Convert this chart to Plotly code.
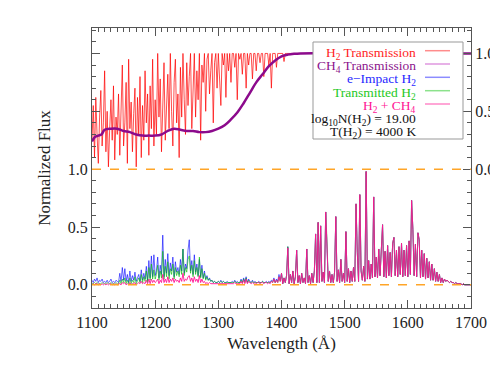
import plotly.graph_objects as go

# ---------------- data ----------------
WL_START = 1100   # Angstrom, first sample of the spectra
WL_STEP = 2       # Angstrom, sampling of the spectra

# electron-impact H2 emission (normalized flux), 1100-1700 A
e_impact = [
    0.04, 0.02, 0.05, 0.03, 0.06, 0.02, 0.04, 0.03, 0.05, 0.02,
    0.03, 0.02, 0.04, 0.02, 0.03, 0.05, 0.02, 0.03, 0.02, 0.04,
    0.03, 0.02, 0.10, 0.03, 0.15, 0.04, 0.14, 0.03, 0.09, 0.02,
    0.12, 0.03, 0.08, 0.04, 0.11, 0.03, 0.06, 0.09, 0.03, 0.13,
    0.04, 0.10, 0.05, 0.16, 0.04, 0.21, 0.06, 0.25, 0.07, 0.26,
    0.08, 0.12, 0.24, 0.06, 0.17, 0.09, 0.43, 0.07, 0.22, 0.10,
    0.27, 0.08, 0.19, 0.12, 0.24, 0.07, 0.20, 0.11, 0.15, 0.09,
    0.22, 0.12, 0.31, 0.10, 0.18, 0.14, 0.30, 0.39, 0.12, 0.21,
    0.09, 0.26, 0.11, 0.18, 0.08, 0.22, 0.07, 0.17, 0.06, 0.12,
    0.05, 0.08, 0.04, 0.06, 0.03, 0.04, 0.02, 0.03, 0.02, 0.02,
    0.03, 0.02, 0.04, 0.02, 0.03, 0.02, 0.02, 0.03, 0.02, 0.02,
    0.02, 0.03, 0.02, 0.04, 0.02, 0.03, 0.02, 0.02, 0.05, 0.02,
    0.06, 0.03, 0.07, 0.02, 0.05, 0.03, 0.02, 0.04, 0.02, 0.03,
    0.02, 0.02, 0.03, 0.02, 0.02, 0.03, 0.02, 0.02, 0.03, 0.02,
    0.03, 0.02, 0.04, 0.03, 0.06, 0.02, 0.05, 0.03, 0.09, 0.04,
    0.10, 0.01, 0.06, 0.02, 0.08, 0.33, 0.01, 0.09, 0.02, 0.12,
    0.01, 0.07, 0.30, 0.02, 0.08, 0.01, 0.10, 0.02, 0.06, 0.01,
    0.31, 0.02, 0.08, 0.01, 0.10, 0.02, 0.12, 0.44, 0.02, 0.54,
    0.02, 0.51, 0.03, 0.11, 0.02, 0.63, 0.39, 0.03, 0.12, 0.02,
    0.09, 0.02, 0.11, 0.59, 0.03, 0.13, 0.02, 0.22, 0.03, 0.10,
    0.02, 0.46, 0.03, 0.14, 0.02, 0.12, 0.03, 0.15, 0.03, 0.70,
    0.28, 0.03, 0.78, 0.12, 0.04, 0.16, 0.03, 0.98, 0.05, 0.21,
    0.05, 0.18, 0.06, 0.76, 0.07, 0.24, 0.06, 0.31, 0.08, 0.27,
    0.52, 0.07, 0.29, 0.06, 0.34, 0.08, 0.28, 0.07, 0.36, 0.41,
    0.08, 0.30, 0.07, 0.33, 0.09, 0.36, 0.07, 0.30, 0.08, 0.34,
    0.07, 0.38, 0.09, 0.73, 0.48, 0.08, 0.35, 0.07, 0.45, 0.39,
    0.06, 0.30, 0.07, 0.27, 0.05, 0.23, 0.06, 0.20, 0.04, 0.18,
    0.04, 0.14, 0.03, 0.11, 0.03, 0.09, 0.02, 0.06, 0.02, 0.05,
    0.03, 0.04, 0.03, 0.02, 0.03, 0.02, 0.02, 0.01, 0.02, 0.01,
    0.01, 0.01, 0.01, 0.00, 0.01, 0.00, 0.00, 0.00, 0.00, 0.00,
    0.00,
]

# H2 emission after H2 absorption, 1100-1428 A (identical to e_impact beyond)
transmitted_h2_short = [
    0.01, 0.01, 0.02, 0.01, 0.02, 0.01, 0.01, 0.01, 0.02, 0.01,
    0.01, 0.01, 0.02, 0.01, 0.01, 0.02, 0.01, 0.01, 0.01, 0.02,
    0.01, 0.01, 0.04, 0.01, 0.05, 0.02, 0.06, 0.01, 0.04, 0.01,
    0.06, 0.01, 0.04, 0.02, 0.07, 0.01, 0.04, 0.06, 0.02, 0.09,
    0.02, 0.07, 0.03, 0.12, 0.02, 0.15, 0.04, 0.18, 0.05, 0.13,
    0.05, 0.09, 0.17, 0.04, 0.12, 0.06, 0.29, 0.05, 0.16, 0.07,
    0.20, 0.05, 0.14, 0.09, 0.18, 0.05, 0.15, 0.08, 0.12, 0.07,
    0.17, 0.09, 0.31, 0.08, 0.15, 0.11, 0.22, 0.25, 0.10, 0.17,
    0.07, 0.21, 0.09, 0.15, 0.07, 0.24, 0.06, 0.14, 0.05, 0.10,
    0.04, 0.07, 0.04, 0.05, 0.03, 0.04, 0.02, 0.03, 0.02, 0.02,
    0.03, 0.02, 0.03, 0.02, 0.03, 0.02, 0.02, 0.02, 0.02, 0.02,
    0.02, 0.02, 0.02, 0.03, 0.02, 0.02, 0.02, 0.02, 0.04, 0.02,
    0.05, 0.02, 0.06, 0.02, 0.04, 0.02, 0.02, 0.03, 0.02, 0.02,
    0.02, 0.02, 0.02, 0.02, 0.02, 0.03, 0.02, 0.02, 0.02, 0.02,
    0.02, 0.02, 0.03, 0.02, 0.05, 0.02, 0.04, 0.02, 0.07, 0.03,
    0.10, 0.01, 0.06, 0.02, 0.08, 0.33, 0.01, 0.09, 0.02, 0.12,
    0.01, 0.07, 0.30, 0.02, 0.08,
]

# H2 emission after H2 + CH4 absorption, 1100-1428 A (identical to e_impact beyond)
h2_ch4_short = [
    0.00, 0.01, 0.00, 0.01, 0.01, 0.00, 0.01, 0.00, 0.01, 0.00,
    0.01, 0.00, 0.01, 0.00, 0.01, 0.01, 0.00, 0.01, 0.00, 0.01,
    0.00, 0.01, 0.01, 0.00, 0.02, 0.01, 0.02, 0.00, 0.01, 0.00,
    0.02, 0.00, 0.01, 0.01, 0.02, 0.00, 0.01, 0.02, 0.01, 0.03,
    0.01, 0.02, 0.01, 0.04, 0.01, 0.05, 0.01, 0.05, 0.02, 0.04,
    0.02, 0.03, 0.05, 0.01, 0.04, 0.02, 0.09, 0.02, 0.05, 0.02,
    0.07, 0.02, 0.05, 0.03, 0.06, 0.02, 0.05, 0.03, 0.04, 0.02,
    0.06, 0.03, 0.10, 0.03, 0.05, 0.04, 0.07, 0.08, 0.03, 0.06,
    0.02, 0.07, 0.03, 0.05, 0.02, 0.08, 0.02, 0.05, 0.02, 0.03,
    0.01, 0.02, 0.01, 0.02, 0.01, 0.01, 0.01, 0.01, 0.01, 0.01,
    0.01, 0.01, 0.01, 0.01, 0.01, 0.01, 0.01, 0.01, 0.01, 0.01,
    0.01, 0.01, 0.01, 0.02, 0.01, 0.01, 0.01, 0.01, 0.03, 0.01,
    0.04, 0.01, 0.05, 0.01, 0.03, 0.02, 0.01, 0.02, 0.01, 0.02,
    0.01, 0.02, 0.02, 0.01, 0.02, 0.02, 0.01, 0.02, 0.02, 0.01,
    0.02, 0.01, 0.03, 0.02, 0.05, 0.02, 0.04, 0.02, 0.07, 0.03,
    0.10, 0.01, 0.06, 0.02, 0.08, 0.32, 0.01, 0.09, 0.02, 0.12,
    0.01, 0.07, 0.30, 0.02, 0.08,
]

# H2 transmission, 1100-1428 A, then flat at 1.0 up to 1700 A
h2_trans = [
    0.25, 0.55, 0.10, 0.62, 0.30, 0.05, 0.45, 0.68, 0.20, 0.40,
    0.85, 0.15, 0.50, 0.02, 0.35, 0.60, 0.25, 0.72, 0.08, 0.45,
    0.30, 0.65, 0.12, 0.55, 0.90, 0.20, 0.40, 0.75, 0.05, 0.95,
    0.35, 0.58, 0.15, 0.48, 0.70, 0.02, 0.62, 0.30, 0.80, 0.10,
    0.55, 0.25, 0.85, 0.40, 0.65, 0.12, 0.72, 0.35, 0.95, 0.20,
    0.60, 0.30, 1.00, 0.45, 0.78, 0.15, 0.68, 0.92, 0.25, 0.55,
    0.82, 0.35, 1.00, 0.50, 0.20, 0.75, 0.95, 0.40, 0.65, 0.10,
    0.88, 0.45, 1.00, 0.60, 0.30, 0.92, 0.55, 0.80, 1.00, 0.35,
    0.70, 1.00, 0.45, 0.85, 0.60, 1.00, 0.25, 0.90, 0.75, 1.00,
    0.50, 0.95, 1.00, 0.65, 0.85, 1.00, 0.40, 0.92, 1.00, 0.70,
    1.00, 0.80, 0.55, 1.00, 0.90, 1.00, 0.62, 1.00, 0.85, 1.00,
    0.75, 1.00, 1.00, 0.88, 1.00, 0.60, 1.00, 0.95, 1.00, 0.82,
    1.00, 1.00, 0.70, 1.00, 0.90, 1.00, 1.00, 0.78, 1.00, 1.00,
    0.85, 1.00, 1.00, 0.92, 1.00, 1.00, 0.80, 1.00, 1.00, 1.00,
    0.90, 1.00, 0.70, 1.00, 1.00, 1.00, 0.88, 1.00, 1.00, 1.00,
    1.00, 1.00, 0.93, 1.00, 1.00, 1.00, 1.00, 1.00, 1.00, 1.00,
    1.00, 1.00, 1.00, 1.00, 1.00,
]
h2_trans_end_wl = 1700
h2_trans_end = 1.0

# CH4 transmission (smooth)
ch4_wl = [1100, 1105, 1110, 1115, 1120, 1130, 1140, 1150, 1160, 1170, 1180, 1190,
          1200, 1210, 1220, 1230, 1240, 1250, 1260, 1270, 1280, 1290, 1300, 1310,
          1320, 1330, 1340, 1350, 1360, 1370, 1380, 1390, 1400, 1410, 1420, 1430,
          1500, 1600, 1700]
ch4_trans = [0.24, 0.28, 0.29, 0.30, 0.34, 0.35, 0.35, 0.33, 0.32, 0.30, 0.29, 0.29,
             0.29, 0.30, 0.33, 0.35, 0.34, 0.33, 0.33, 0.32, 0.32, 0.33, 0.35, 0.38,
             0.43, 0.49, 0.57, 0.66, 0.75, 0.82, 0.89, 0.94, 0.975, 0.99, 0.997, 1.0,
             1.0, 1.0, 1.0]

x_ticks = [1100, 1200, 1300, 1400, 1500, 1600, 1700]
left_tickvals = [0.0, 0.5, 1.0, 1.5, 2.0]
left_ticktext = ["0.0", "0.5", "1.0", "", ""]
right_tickvals = [-1.0, -0.5, 0.0, 0.5, 1.0]
right_ticktext = ["", "", "0.0", "0.5", "1.0"]

legend_labels = ["H<sub>2</sub> Transmission", "CH<sub>4</sub> Transmission",
                 "e\u2212Impact H<sub>2</sub>", "Transmitted H<sub>2</sub>",
                 "H<sub>2</sub> + CH<sub>4</sub>"]
info_labels = ["log<sub>10</sub>N(H<sub>2</sub>) = 19.00", "T(H<sub>2</sub>) = 4000 K"]

# ---------------- build ----------------
wl = [WL_START + WL_STEP * i for i in range(len(e_impact))]
wl_short = wl[:len(h2_trans)]
transmitted_h2 = transmitted_h2_short + e_impact[len(transmitted_h2_short):]
h2_ch4 = h2_ch4_short + e_impact[len(h2_ch4_short):]
red_x = wl_short + [h2_trans_end_wl]
red_y = h2_trans + [h2_trans_end]

FONT = "Liberation Serif"
RED = "rgba(255,0,0,0.7)"
PURPLE = "rgb(140,10,140)"
BLUE = "rgba(0,0,255,0.6)"
GREEN = "rgba(0,190,0,0.6)"
PINK = "rgba(255,20,147,0.9)"
ORANGE = "rgb(255,165,40)"

fig = go.Figure()
fig.add_trace(go.Scatter(x=red_x, y=red_y, yaxis="y2", mode="lines",
                         line=dict(color=RED, width=1)))
fig.add_trace(go.Scatter(x=ch4_wl, y=ch4_trans, yaxis="y2", mode="lines",
                         line=dict(color=PURPLE, width=2.5, shape="spline")))
fig.add_trace(go.Scatter(x=wl, y=e_impact, mode="lines",
                         line=dict(color=BLUE, width=1)))
fig.add_trace(go.Scatter(x=wl, y=transmitted_h2, mode="lines",
                         line=dict(color=GREEN, width=1)))
fig.add_trace(go.Scatter(x=wl, y=h2_ch4, mode="lines",
                         line=dict(color=PINK, width=1)))

axis_common = dict(showline=True, linecolor="#555", linewidth=1, ticks="inside",
                   tickcolor="#555", showgrid=False, zeroline=False, automargin=False,
                   tickfont=dict(family=FONT, size=16, color="#222"))

# the page adds an 8 px body margin, so the figure is 8 px smaller than the window
fig.update_layout(
    width=490, height=359,
    margin=dict(l=84, r=27, t=20, b=59, autoexpand=False),
    paper_bgcolor="white", plot_bgcolor="white",
    showlegend=False,
    font=dict(family=FONT, color="#222"),
    xaxis=dict(range=[1100, 1700], tickmode="array", tickvals=x_ticks, ticklen=8,
               mirror="ticks",
               minor=dict(tickmode="linear", tick0=1100, dtick=10, ticklen=4,
                          ticks="inside", tickcolor="#555"),
               title=dict(text="Wavelength (\u00c5)", font=dict(family=FONT, size=17),
                          standoff=6),
               **axis_common),
    yaxis=dict(range=[-0.2, 2.22], tickmode="array", tickvals=left_tickvals,
               ticktext=left_ticktext, ticklen=8,
               minor=dict(tickmode="linear", tick0=0, dtick=0.1, ticklen=4,
                          ticks="inside", tickcolor="#555"),
               title=dict(text="Normalized Flux", font=dict(family=FONT, size=17),
                          standoff=12),
               **axis_common),
    yaxis2=dict(range=[-1.2, 1.22], overlaying="y", side="right", tickmode="array",
                tickvals=right_tickvals, ticktext=right_ticktext, ticklen=8,
                minor=dict(tickmode="linear", tick0=0, dtick=0.1, ticklen=4,
                           ticks="inside", tickcolor="#555"),
                **axis_common),
)

# dashed reference lines at 0 and 1 of the left axis
for yv in (0.0, 1.0):
    fig.add_shape(type="line", xref="paper", yref="y", x0=0, x1=1, y0=yv, y1=yv,
                  line=dict(color=ORANGE, width=1.5, dash="dash"), layer="above")

# legend box (drawn manually to match the reference layout); page pixel -> paper
W, H, L, T = 379.0, 280.0, 92.0, 28.0
def px_x(p):
    return (p - L) / W
def px_y(p):
    return (T + H - p) / H

fig.add_shape(type="rect", xref="paper", yref="paper",
              x0=px_x(313), x1=px_x(463), y0=px_y(139), y1=px_y(42),
              line=dict(color="#999", width=1), fillcolor="white", layer="above")

legend_colors = ["rgb(255,30,30)", "rgb(140,20,140)", "rgb(40,40,255)",
                 "rgb(30,200,30)", "rgb(255,20,147)"]
sample_colors = ["rgba(255,0,0,0.45)", "rgba(200,80,200,0.6)", "rgba(0,0,255,0.45)",
                 "rgba(0,190,0,0.45)", "rgba(255,20,147,0.5)"]
row_y = [50.7, 64.0, 77.3, 90.7, 104.0, 117.3, 130.0]
TEXT_SHIFT = 2.5   # subscripts push the box centre up; compensate
for i, lab in enumerate(legend_labels):
    fig.add_annotation(xref="paper", yref="paper", x=px_x(418),
                       y=px_y(row_y[i] + TEXT_SHIFT),
                       text=lab, showarrow=False, xanchor="right", yanchor="middle",
                       font=dict(family=FONT, size=13.5, color=legend_colors[i]))
    fig.add_shape(type="line", xref="paper", yref="paper",
                  x0=px_x(425), x1=px_x(450), y0=px_y(row_y[i]), y1=px_y(row_y[i]),
                  line=dict(color=sample_colors[i], width=1.5), layer="above")
for j, lab in enumerate(info_labels):
    fig.add_annotation(xref="paper", yref="paper", x=px_x(418),
                       y=px_y(row_y[5 + j] + TEXT_SHIFT),
                       text=lab, showarrow=False, xanchor="right", yanchor="middle",
                       font=dict(family=FONT, size=13.5, color="#111"))

fig.write_html("out.html")
